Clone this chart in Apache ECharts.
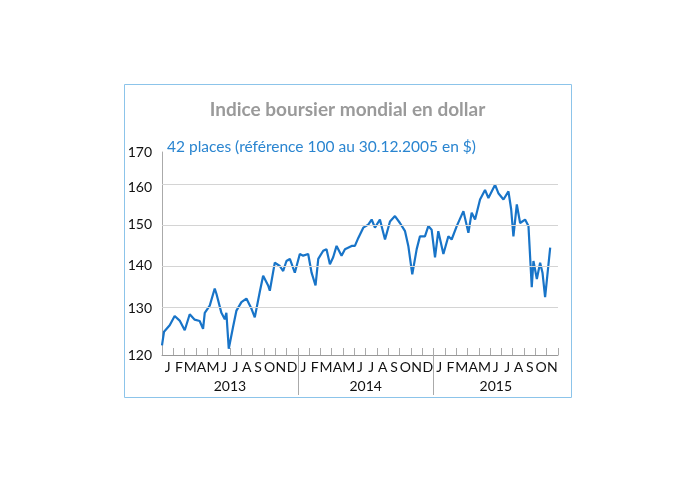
<!DOCTYPE html>
<html><head><meta charset="utf-8">
<script src="https://cdn.jsdelivr.net/npm/echarts@6/dist/echarts.min.js"></script>
<style>body{margin:0;background:#fff}#main{width:695px;height:483px}</style>
</head><body><div id="main"></div>
<script>
// position in months since 1 Jan 2013, and index value
var months = [0,.18,.68,1.12,1.56,2.01,2.45,2.89,3.33,3.63,3.78,4.22,4.66,4.81,5.25,5.55,5.69,5.9,6.28,6.58,7.02,7.46,7.91,8.2,8.64,8.94,9.38,9.53,9.97,10.41,10.71,11,11.3,11.74,12.18,12.48,12.92,13.22,13.57,13.81,14.25,14.54,14.84,15.13,15.43,15.87,16.17,16.76,17.05,17.35,17.79,18.23,18.53,18.82,19.26,19.71,20.15,20.59,21.03,21.48,21.77,22.12,22.51,22.8,23.24,23.54,23.83,24.13,24.42,24.87,25.31,25.6,26.05,26.64,27.08,27.37,27.67,28.11,28.55,28.85,29.44,29.73,30.18,30.62,30.86,31.06,31.36,31.65,32.09,32.39,32.68,32.83,33.13,33.42,33.63,33.86,34.31];
var values = [122,124.9,126.3,128.3,127.3,125.2,128.7,127.5,127.2,125.5,129,130.6,134.5,133.3,129,127.6,129,121.3,125.9,129.5,131.4,132.2,129.9,128,133.7,137.5,135.2,134,140.6,139.8,138.6,141,141.5,138.2,142.7,142.3,142.7,138.2,135.2,141.5,143.5,143.9,140.2,141.9,144.7,142.3,143.9,144.7,144.7,146.7,149.3,150.1,151.4,149.3,151.4,146.3,150.9,152.3,150.5,148.4,144.7,137.8,143.9,147.1,147.1,149.7,148.8,141.9,148.4,142.7,147.1,146.3,149.7,153.6,148,153.2,151.4,156.7,159.3,157.1,160.7,158.4,156.7,158.9,154.1,147.1,155.4,150.5,151.4,149.7,134.8,141,136.7,140.6,138.2,132.5,144.3];
var yTicks = [120,130,140,150,160,170];
var monthLetters = ['J','F','M','A','M','J','J','A','S','O','N','D'];
var years = ['2013','2014','2015'];
var nMonths = 35;

var pts = months.map(function(m,i){ return [m, Math.log(values[i])]; });
var monthTicks = [], monthLabels = [];
for (var i=0;i<=nMonths;i++) monthTicks.push(i);
for (var i=0;i<nMonths;i++) monthLabels.push(i+0.5);

var chart = echarts.init(document.getElementById('main'));
chart.setOption({
  animation:false,
  graphic:[{type:'rect',shape:{x:124.5,y:84.5,width:447,height:313},style:{fill:'none',stroke:'#8cc4ea',lineWidth:1}}],
  title:[
    {text:'Indice boursier mondial en dollar',left:'center',top:95,textStyle:{color:'#9a9a9a',fontSize:19,fontWeight:'bold',fontFamily:'Lato'}},
    {text:'42 places (référence 100 au 30.12.2005 en $)',left:162,top:134,textStyle:{color:'#2a85d0',fontSize:15.5,fontWeight:'normal',fontFamily:'Lato'}}
  ],
  grid:{left:162,right:137,top:152,bottom:128},
  xAxis:[
    {type:'value',min:0,max:nMonths,axisLine:{lineStyle:{color:'#999'}},splitLine:{show:false},
     axisTick:{customValues:monthTicks,inside:true,length:7,lineStyle:{color:'#aaa'}},
     axisLabel:{customValues:monthLabels,margin:5,color:'#111',fontSize:14,fontFamily:'Lato',
       formatter:function(v){return monthLetters[Math.floor(v)%12];}}},
    {type:'value',min:0,max:nMonths,position:'bottom',axisLine:{show:false},splitLine:{show:false},
     axisTick:{customValues:[12,24],length:40,lineStyle:{color:'#aaa'}},
     axisLabel:{customValues:[6,18,29.5],margin:24,color:'#111',fontSize:14,fontFamily:'Lato',
       formatter:function(v){return years[Math.floor(v/12)];}}}
  ],
  yAxis:{type:'value',min:Math.log(120),max:Math.log(170),axisLine:{show:true,lineStyle:{color:'#aaa'}},axisTick:{show:false},splitLine:{show:false},
    axisLabel:{customValues:yTicks.map(function(t){return Math.log(t);}),color:'#111',fontSize:14,fontFamily:'Lato',margin:10,
      formatter:function(v){return Math.round(Math.exp(v));}}},
  series:[{type:'line',data:pts,showSymbol:false,lineStyle:{color:'#1874c8',width:2.2},
    markLine:{silent:true,symbol:'none',label:{show:false},lineStyle:{color:'#d4d4d4',type:'solid',width:1},
      data:yTicks.slice(1).map(function(t){return {yAxis:Math.log(t===170?169.9:t)};})}}]
});
</script></body></html>
